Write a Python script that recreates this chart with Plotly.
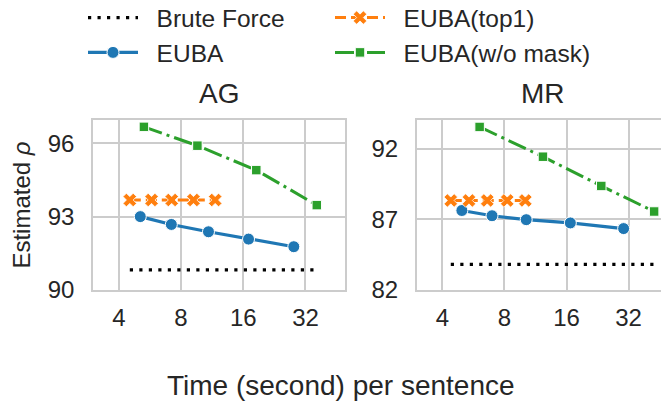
import math
import plotly.graph_objects as go

# ---- data: time per sentence (s) and estimated rho ----
ticks_x = [4, 8, 16, 32]
tick_text_x = ["4", "8", "16", "32"]

# AG
ag_euba_t = [5.08, 7.18, 10.86, 16.97, 28.1]
ag_euba_rho = [93.0, 92.68, 92.38, 92.08, 91.77]
ag_top1_t = [4.52, 5.76, 7.21, 9.19, 11.7]
ag_top1_rho = [93.68, 93.68, 93.68, 93.68, 93.68]
ag_nomask_t = [5.29, 9.6, 18.5, 36.3]
ag_nomask_rho = [96.67, 95.9, 94.9, 93.47]
ag_brute_rho = 90.82
ag_yticks = [90, 93, 96]
ag_yrange = [90, 96.95]

# MR
mr_euba_t = [4.97, 6.96, 10.2, 16.7, 30.3]
mr_euba_rho = [87.63, 87.26, 86.98, 86.75, 86.35]
mr_top1_t = [4.39, 5.38, 6.6, 8.25, 10.1]
mr_top1_rho = [88.34, 88.34, 88.34, 88.34, 88.34]
mr_nomask_t = [6.06, 12.3, 23.6, 42.6]
mr_nomask_rho = [93.55, 91.44, 89.37, 87.56]
mr_brute_rho = 83.81
mr_yticks = [82, 87, 92]
mr_yrange = [82, 94.04]

W, H = 661, 406
FONT = "Liberation Sans, Arial, sans-serif"
TXT = "#262626"
GRID = "#cccccc"

BLUE = "#1f77b4"
ORANGE = "#ff7f0e"
GREEN = "#2ca02c"

# legend labels; the leading no-break spaces widen the handle-to-text gap
PAD = "\u00a0\u00a0"

fig = go.Figure()


def add_panel(xa, ya, euba, top1, nomask, brute, first):
    all_t = euba[0] + top1[0] + nomask[0]
    t_lo, t_hi = min(all_t), max(all_t)
    fig.add_trace(go.Scatter(
        x=[t_lo, t_hi], y=[brute, brute], mode="lines", name=PAD + "Brute Force",
        line=dict(color="black", width=3.2, dash="3.2px,6.3px"),
        legend="legend", legendgroup="brute", showlegend=first,
        xaxis=xa, yaxis=ya))
    fig.add_trace(go.Scatter(
        x=euba[0], y=euba[1], mode="lines+markers", name=PAD + "EUBA",
        line=dict(color=BLUE, width=3.2),
        marker=dict(symbol="circle", size=12, color=BLUE,
                    line=dict(color="white", width=1)),
        legend="legend", legendgroup="euba", showlegend=first,
        xaxis=xa, yaxis=ya))
    fig.add_trace(go.Scatter(
        x=top1[0], y=top1[1], mode="lines+markers", name=PAD + "EUBA(top1)",
        line=dict(color=ORANGE, width=3, dash="11px,5px"),
        marker=dict(symbol="x", size=12, color=ORANGE,
                    line=dict(color="white", width=0.8)),
        legend="legend2", legendgroup="top1", showlegend=first,
        xaxis=xa, yaxis=ya))
    fig.add_trace(go.Scatter(
        x=nomask[0], y=nomask[1], mode="lines+markers", name=PAD + "EUBA(w/o mask)",
        line=dict(color=GREEN, width=3, dash="19px,5px,3px,5px"),
        marker=dict(symbol="square", size=9.5, color=GREEN,
                    line=dict(color="white", width=1)),
        legend="legend2", legendgroup="nomask", showlegend=first,
        xaxis=xa, yaxis=ya))


add_panel("x", "y", (ag_euba_t, ag_euba_rho), (ag_top1_t, ag_top1_rho),
          (ag_nomask_t, ag_nomask_rho), ag_brute_rho, True)
add_panel("x2", "y2", (mr_euba_t, mr_euba_rho), (mr_top1_t, mr_top1_rho),
          (mr_nomask_t, mr_nomask_rho), mr_brute_rho, False)

# plot-area geometry (px)
top_px, bot_px = 120, 290
ydom = [1 - bot_px / H, 1 - top_px / H]
left1, right1 = 93, 345
left2, right2 = 416.7, 661

common_x = dict(
    type="log", tickvals=ticks_x, ticktext=tick_text_x,
    showgrid=True, gridcolor=GRID, gridwidth=1.5,
    showline=True, linecolor=GRID, linewidth=1.5,
    zeroline=False, ticks="", ticklabelstandoff=5, automargin=False,
    tickfont=dict(size=24, color=TXT, family=FONT),
)
common_y = dict(
    showgrid=True, gridcolor=GRID, gridwidth=1.5,
    showline=True, linecolor=GRID, linewidth=1.5,
    zeroline=False, ticks="", ticklabelstandoff=12, automargin=False,
    tickfont=dict(size=24, color=TXT, family=FONT),
)

x_lo = math.log10(3.0)
fig.update_layout(
    xaxis=dict(domain=[left1 / W, right1 / W], range=[x_lo, math.log10(49.7)],
               anchor="y", mirror=True, **common_x),
    yaxis=dict(domain=ydom, range=ag_yrange, tickvals=ag_yticks,
               anchor="x", mirror=True,
               title=dict(text="Estimated <i>ρ</i>", standoff=10,
                          font=dict(size=24, color=TXT, family=FONT)),
               **common_y),
    xaxis2=dict(domain=[left2 / W, right2 / W], range=[x_lo, math.log10(46.0)],
                anchor="y2", mirror=True, **common_x),
    yaxis2=dict(domain=ydom, range=mr_yrange, tickvals=mr_yticks,
                anchor="x2", mirror=False, **common_y),
)

legend_style = dict(y=1.012, xanchor="left", yanchor="top", orientation="v",
                    itemwidth=50, tracegroupgap=0,
                    font=dict(size=24.5, color=TXT, family=FONT),
                    bgcolor="rgba(0,0,0,0)")

fig.update_layout(
    width=W, height=H,
    margin=dict(l=0, r=0, t=0, b=0, autoexpand=False),
    paper_bgcolor="white", plot_bgcolor="white",
    font=dict(family=FONT, color=TXT),
    legend=dict(x=83 / W, **legend_style),
    legend2=dict(x=330 / W, **legend_style),
    annotations=[
        dict(text="AG", x=219 / W, y=1 - 93 / H, xref="paper", yref="paper",
             xanchor="center", yanchor="middle", showarrow=False,
             font=dict(size=28, color=TXT, family=FONT)),
        dict(text="MR", x=542.7 / W, y=1 - 93 / H, xref="paper", yref="paper",
             xanchor="center", yanchor="middle", showarrow=False,
             font=dict(size=28, color=TXT, family=FONT)),
        dict(text="Time (second) per sentence", x=341 / W, y=1 - 385 / H,
             xref="paper", yref="paper", xanchor="center", yanchor="middle",
             showarrow=False, font=dict(size=28, color=TXT, family=FONT)),
    ],
)

fig.write_html("out.html")
